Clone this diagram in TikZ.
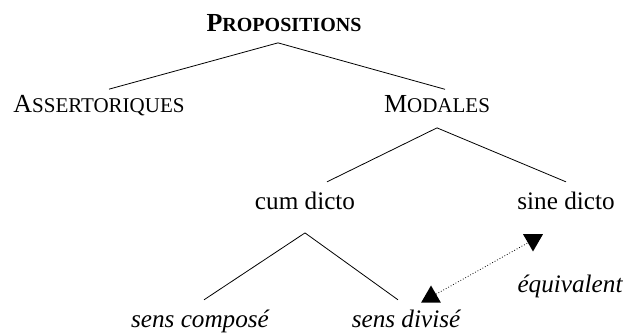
\documentclass[tikz,border=0pt]{standalone}
\usepackage{fontspec}
\setmainfont{Liberation Serif}
\usetikzlibrary{shapes.geometric}
\newcommand{\pcaps}[3][10.5]{{\fontsize{13}{15}\selectfont #2}{\fontsize{#1}{12}\selectfont #3}}

\begin{document}
\begin{tikzpicture}[x=0.5pt, y=-0.5pt, font=\fontsize{12.6}{15}\selectfont,
  every node/.style={anchor=base, outer sep=2pt},
  tri/.style={regular polygon, regular polygon sides=3, fill=black, inner sep=0pt, outer sep=0pt, minimum size=11.5pt, anchor=center}]
\useasboundingbox (0,0) rectangle (627,336);

% Top of the tree
\node (prop) at (284,32) {\bfseries\pcaps[10]{P}{ROPOSITIONS}};

% Second level
\node (assert) at (99,113) {\pcaps{A}{SSERTORIQUES}};
\node (modal) at (437,113) {\pcaps{M}{ODALES}};

% Modal propositions
\node (cum) at (305,210) {cum dicto};
\node (sine) at (566,210) {sine dicto};

% Senses of cum dicto
\node (compose) at (200,328) {\itshape sens composé};
\node (divise) at (406,328) {\itshape sens divisé};
\node (equiv) at (570,293) {\itshape équivalent};

% Tree branches
\draw ([xshift=-3pt]prop.south) -- ([xshift=5pt, yshift=-2pt]assert.north);
\draw ([xshift=-3pt]prop.south) -- ([xshift=4pt, yshift=-2pt]modal.north);
\draw ([yshift=-2pt]modal.south) -- ([xshift=11pt]cum.north);
\draw ([yshift=-2pt]modal.south) -- (sine.north);
\draw ([yshift=-6pt]cum.south) -- ([xshift=2pt]compose.north);
\draw ([yshift=-6pt]cum.south) -- ([xshift=-4pt]divise.north);

% Equivalence between divided sense and sine dicto
\node[tri] (tup) at (431,297) {};
\node[tri, shape border rotate=180] (tdown) at (533,240) {};
\draw[densely dotted] (tup) -- (tdown);

\end{tikzpicture}
\end{document}
